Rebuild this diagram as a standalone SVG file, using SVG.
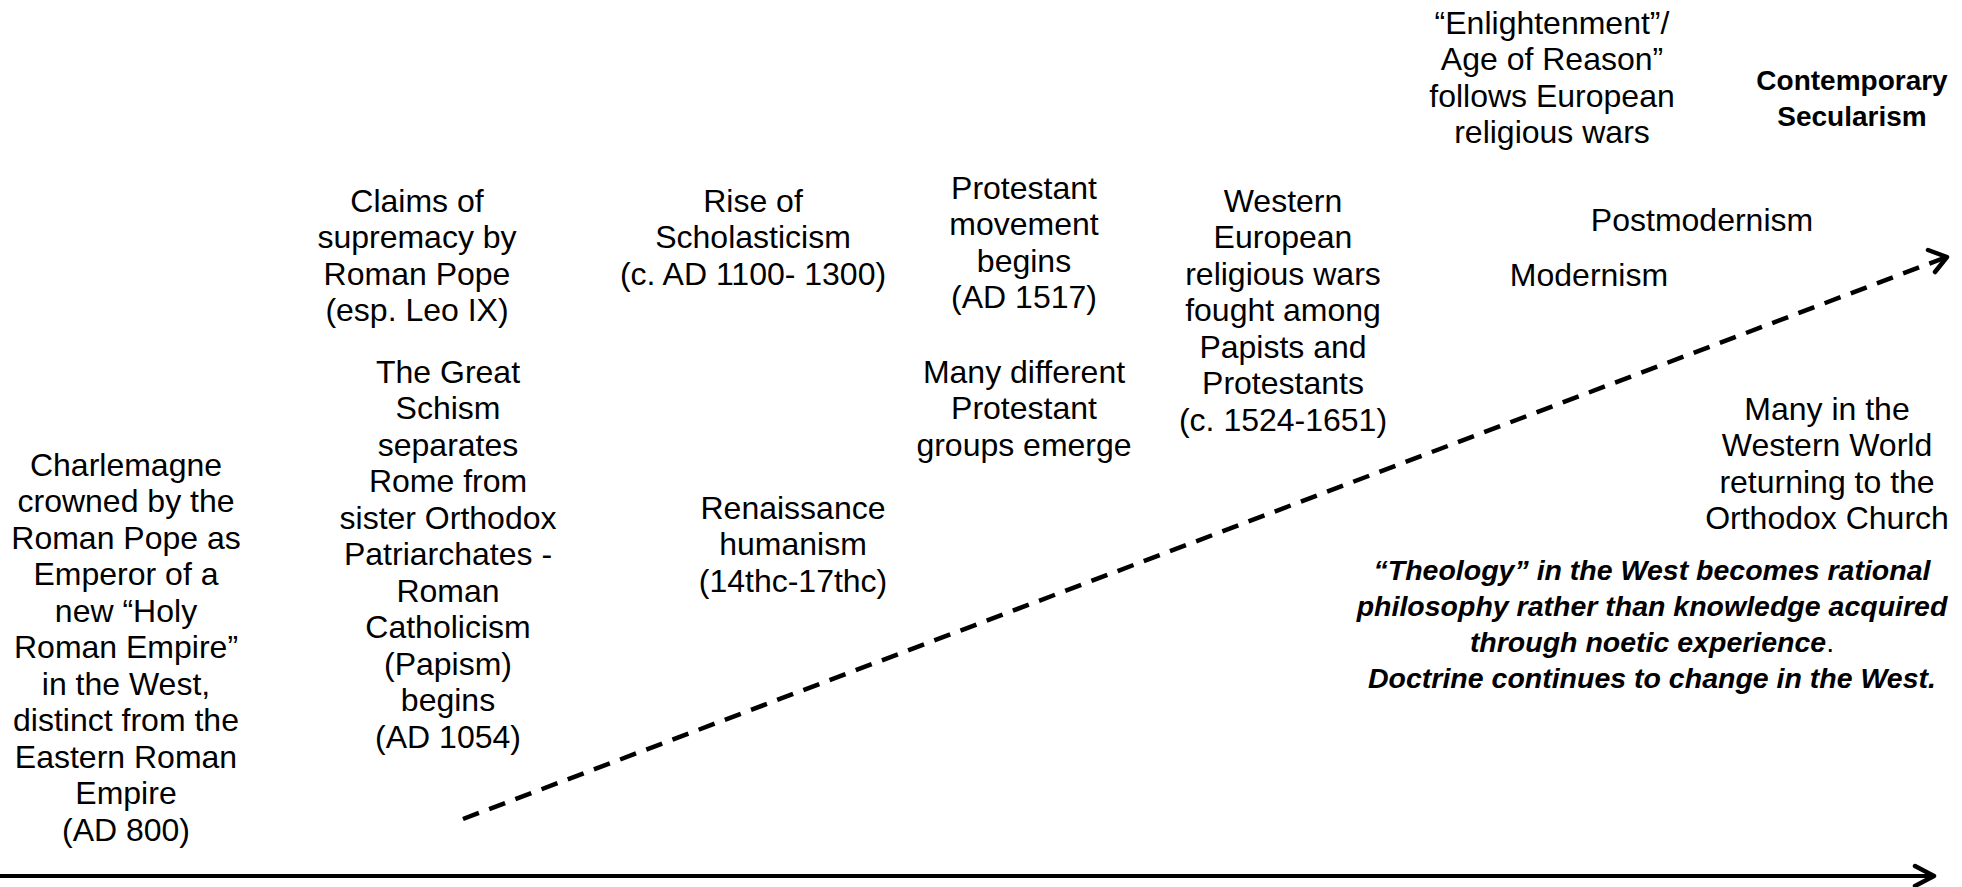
<svg xmlns="http://www.w3.org/2000/svg" width="1962" height="887" viewBox="0 0 1962 887">
<style>
text{font-family:"Liberation Sans",Arial,sans-serif;font-size:32px;fill:#000;text-anchor:middle}
.b{font-weight:bold;font-size:28px}
.bi{font-weight:bold;font-style:italic;font-size:28.5px}
.dash{fill:none;stroke:#000;stroke-width:4.5;stroke-dasharray:17 11}
.solid{fill:none;stroke:#000;stroke-width:4}
.head{fill:none;stroke:#000;stroke-width:4.5;stroke-linecap:round;stroke-linejoin:round}
</style>
<rect width="1962" height="887" fill="#fff"/>
<g id="connectors">
<line class="dash" x1="463" y1="819" x2="1944" y2="258"/>
<polyline class="head" points="1928,250 1947,257 1935,272"/>
<line class="solid" x1="0" y1="876" x2="1932" y2="876"/>
<polyline class="head" points="1915,866 1934,876 1915,886"/>
</g>
<g id="charlemagne">
<text x="126" y="476">Charlemagne</text>
<text x="126" y="512">crowned by the</text>
<text x="126" y="549">Roman Pope as</text>
<text x="126" y="585">Emperor of a</text>
<text x="126" y="622">new “Holy</text>
<text x="126" y="658">Roman Empire”</text>
<text x="126" y="695">in the West,</text>
<text x="126" y="731">distinct from the</text>
<text x="126" y="768">Eastern Roman</text>
<text x="126" y="804">Empire</text>
<text x="126" y="841">(AD 800)</text>
</g>
<g id="claims">
<text x="417" y="212">Claims of</text>
<text x="417" y="248">supremacy by</text>
<text x="417" y="285">Roman Pope</text>
<text x="417" y="321">(esp. Leo IX)</text>
</g>
<g id="schism">
<text x="448" y="383">The Great</text>
<text x="448" y="419">Schism</text>
<text x="448" y="456">separates</text>
<text x="448" y="492">Rome from</text>
<text x="448" y="529">sister Orthodox</text>
<text x="448" y="565">Patriarchates -</text>
<text x="448" y="602">Roman</text>
<text x="448" y="638">Catholicism</text>
<text x="448" y="675">(Papism)</text>
<text x="448" y="711">begins</text>
<text x="448" y="748">(AD 1054)</text>
</g>
<g id="scholasticism">
<text x="753" y="212">Rise of</text>
<text x="753" y="248">Scholasticism</text>
<text x="753" y="285">(c. AD 1100- 1300)</text>
</g>
<g id="renaissance">
<text x="793" y="519">Renaissance</text>
<text x="793" y="555">humanism</text>
<text x="793" y="592">(14thc-17thc)</text>
</g>
<g id="protestant">
<text x="1024" y="199">Protestant</text>
<text x="1024" y="235">movement</text>
<text x="1024" y="272">begins</text>
<text x="1024" y="308">(AD 1517)</text>
</g>
<g id="groups">
<text x="1024" y="383">Many different</text>
<text x="1024" y="419">Protestant</text>
<text x="1024" y="456">groups emerge</text>
</g>
<g id="wars">
<text x="1283" y="212">Western</text>
<text x="1283" y="248">European</text>
<text x="1283" y="285">religious wars</text>
<text x="1283" y="321">fought among</text>
<text x="1283" y="358">Papists and</text>
<text x="1283" y="394">Protestants</text>
<text x="1283" y="431">(c. 1524-1651)</text>
</g>
<g id="enlightenment">
<text x="1552" y="34">“Enlightenment”/</text>
<text x="1552" y="70">Age of Reason”</text>
<text x="1552" y="107">follows European</text>
<text x="1552" y="143">religious wars</text>
</g>
<g id="secularism">
<text class="b" x="1852" y="90">Contemporary</text>
<text class="b" x="1852" y="126">Secularism</text>
</g>
<g id="postmodernism">
<text x="1702" y="231">Postmodernism</text>
</g>
<g id="modernism">
<text x="1589" y="286">Modernism</text>
</g>
<g id="returning">
<text x="1827" y="420">Many in the</text>
<text x="1827" y="456">Western World</text>
<text x="1827" y="493">returning to the</text>
<text x="1827" y="529">Orthodox Church</text>
</g>
<g id="theology">
<text class="bi" x="1652" y="580">“Theology” in the West becomes rational</text>
<text class="bi" x="1652" y="616">philosophy rather than knowledge acquired</text>
<text class="bi" x="1652" y="652">through noetic experience<tspan style="font-weight:normal;font-style:normal">.</tspan></text>
<text class="bi" x="1652" y="688">Doctrine continues to change in the West.</text>
</g>
</svg>
